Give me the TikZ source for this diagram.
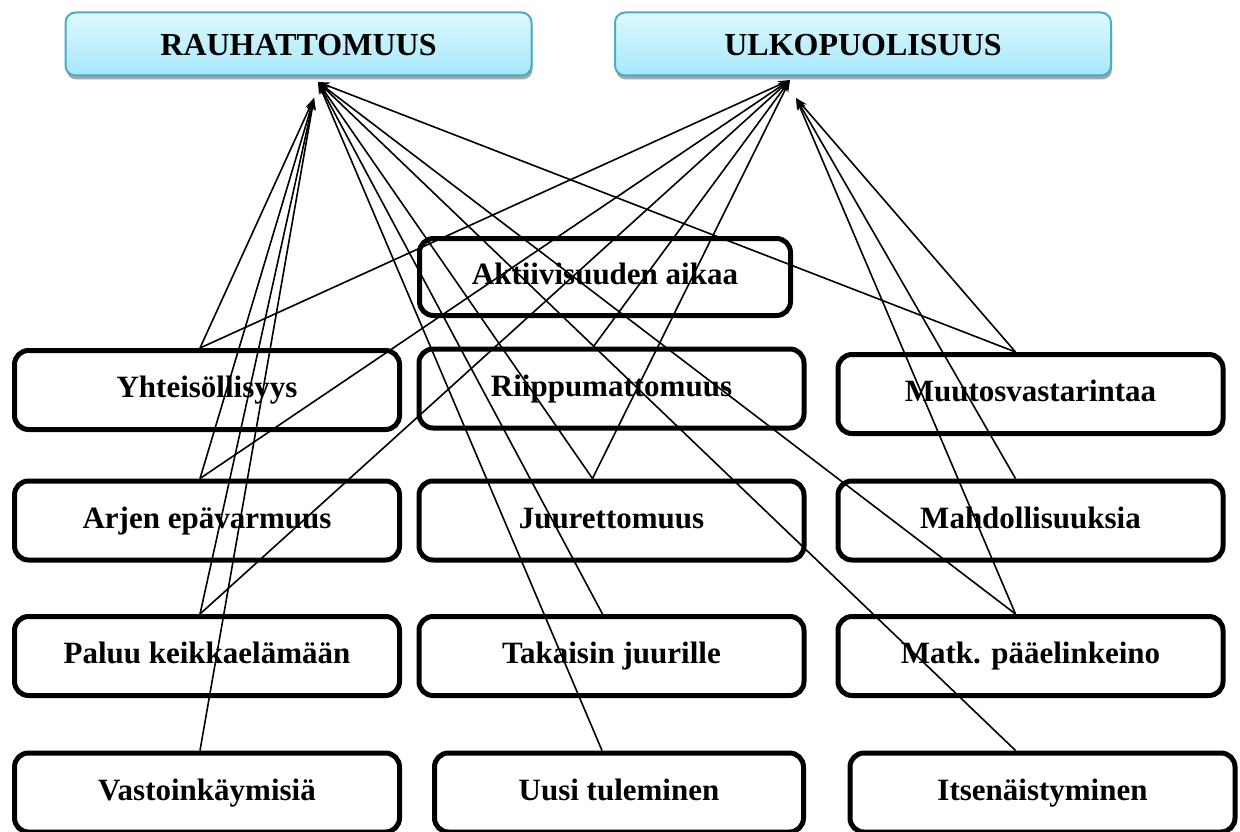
\documentclass[tikz,border=0pt]{standalone}
\usepackage{fontspec}
\setmainfont{Liberation Serif}
\usetikzlibrary{arrows.meta,shadows}
\definecolor{tbtop}{HTML}{E0F8FE}
\definecolor{tbbot}{HTML}{A4E8FA}
\definecolor{tbline}{HTML}{4BACC6}
\begin{document}
\begin{tikzpicture}[x=1pt,y=-1pt,
  box/.style={draw=black, line width=5pt, rounded corners=14pt, fill=white,
    font=\fontsize{31}{37}\selectfont\bfseries, inner sep=0pt,
    text height=22pt, text depth=7pt,
    minimum width=385pt, minimum height=79pt},
  topbox/.style={draw=tbline, line width=2pt, rounded corners=10pt,
    top color=tbtop, bottom color=tbbot,
    drop shadow={shadow xshift=1pt, shadow yshift=-4pt, opacity=0.35, fill=black},
    font=\fontsize{32}{38}\selectfont\bfseries, inner sep=0pt,
    text height=24pt, text depth=0pt,
    minimum height=63pt},
  conn/.style={line width=1.6pt, -{Stealth[length=12pt,width=8pt]}}]
\useasboundingbox (0,0) rectangle (1240,832);
% top boxes
\node[topbox, minimum width=466pt] (rau) at (298.5,44) {RAUHATTOMUUS};
\node[topbox, minimum width=496pt] (ulk) at (863,44) {ULKOPUOLISUUS};
% boxes
\node[box, minimum width=371pt, minimum height=77pt] (akt) at (605,277) {Aktiivisuuden aikaa};
\node[box] (yht) at (207,390) {Yhteisöllisyys};
\node[box] (rii) at (611.5,388.5) {Riippumattomuus};
\node[box] (muu) at (1030.5,394) {Muutosvastarintaa};
\node[box] (arj) at (207,520.5) {Arjen epävarmuus};
\node[box] (juu) at (611.5,520.5) {Juurettomuus};
\node[box] (mah) at (1030.5,520.5) {Mahdollisuuksia};
\node[box] (pal) at (207,656) {Paluu keikkaelämään};
\node[box] (tak) at (611.5,656) {Takaisin juurille};
\node[box] (mat) at (1030.5,656) {Matk. pääelinkeino};
\node[box] (vas) at (207,792.5) {Vastoinkäymisiä};
\node[box, minimum width=369pt] (uus) at (619,792.5) {Uusi tuleminen};
\node[box] (its) at (1042.5,792.5) {Itsenäistyminen};
% arrow targets
\coordinate (rA) at (318,82);
\coordinate (rB) at (314,98);
\coordinate (uA) at (790,80);
\coordinate (uB) at (796,98);
% to RAUHATTOMUUS
\draw[conn] ([xshift=-7pt]yht.north) -- (rB);
\draw[conn] ([xshift=-7pt]arj.north) -- (rB);
\draw[conn] ([xshift=-7pt]pal.north) -- (rB);
\draw[conn] ([xshift=-7pt]vas.north) -- (rB);
\draw[conn] ([xshift=-19pt]juu.north) -- (rA);
\draw[conn] ([xshift=-9pt]tak.north) -- (rA);
\draw[conn] ([xshift=-17pt]uus.north) -- (rA);
\draw[conn] ([xshift=-15pt]muu.north) -- (rA);
\draw[conn] ([xshift=-15pt]mat.north) -- (rA);
\draw[conn] ([xshift=-27pt]its.north) -- (rA);
% to ULKOPUOLISUUS
\draw[conn] ([xshift=-7pt]yht.north) -- (uA);
\draw[conn] ([xshift=-7pt]arj.north) -- (uA);
\draw[conn] ([xshift=-7pt]pal.north) -- (uA);
\draw[conn] ([xshift=-18pt]rii.north) -- (uA);
\draw[conn] ([xshift=-19pt]juu.north) -- (uA);
\draw[conn] ([xshift=-15pt]muu.north) -- (uB);
\draw[conn] ([xshift=-15pt]mah.north) -- (uB);
\draw[conn] ([xshift=-15pt]mat.north) -- (uB);
\end{tikzpicture}
\end{document}
